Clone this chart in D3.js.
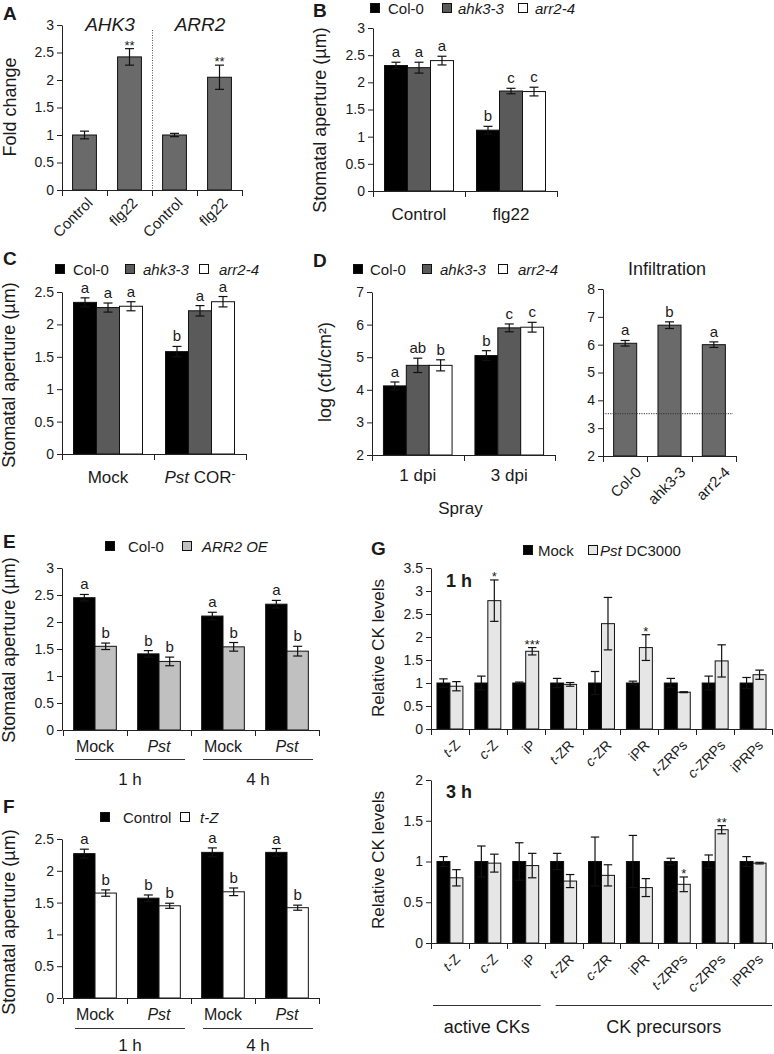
<!DOCTYPE html>
<html><head><meta charset="utf-8">
<script src="https://cdn.jsdelivr.net/npm/d3@7"></script>
<style>
body{margin:0;background:#fff;}
svg text{font-family:"Liberation Sans",Arial,sans-serif;fill:#1a1a1a;}
</style></head><body>
<svg id="fig" width="774" height="1054"></svg>
<script>
// ---------------- DATA ----------------
// Panel A
const aCategories = ["Control", "flg22", "Control", "flg22"];
const aGenes = ["AHK3", "ARR2"];
const aValues = [1.0, 2.42, 1.0, 2.05];
const aErrors = [0.07, 0.15, 0.03, 0.22];
const aStars = ["", "**", "", "**"];
const aTicks = [0, 0.5, 1, 1.5, 2, 2.5, 3];

// Panels B, C, D genotypes
const genotypes = ["Col-0", "ahk3-3", "arr2-4"];

// Panel B
const bGroups = ["Control", "flg22"];
const bValues = [[2.31, 2.27, 2.40], [1.12, 1.84, 1.83]];
const bErrors = [[0.06, 0.10, 0.08], [0.07, 0.05, 0.08]];
const bLetters = [["a", "a", "a"], ["b", "c", "c"]];
const bTicks = [0, 0.5, 1, 1.5, 2, 2.5, 3];

// Panel C
const cGroups = ["Mock", "_Pst_ COR^-^"];
const cValues = [[2.34, 2.26, 2.28], [1.58, 2.21, 2.35]];
const cErrors = [[0.07, 0.07, 0.07], [0.08, 0.08, 0.08]];
const cLetters = [["a", "a", "a"], ["b", "a", "a"]];
const cTicks = [0, 0.5, 1, 1.5, 2, 2.5];

// Panel D (spray)
const dGroups = ["1 dpi", "3 dpi"];
const dValues = [[4.12, 4.75, 4.75], [5.05, 5.90, 5.92]];
const dErrors = [[0.12, 0.22, 0.17], [0.15, 0.12, 0.15]];
const dLetters = [["a", "ab", "b"], ["b", "c", "c"]];
const dTicks = [2, 3, 4, 5, 6, 7];
// Panel D (infiltration)
const infValues = [6.05, 6.70, 6.00];
const infErrors = [0.10, 0.12, 0.10];
const infLetters = ["a", "b", "a"];
const infLimit = 3.52;
const infTicks = [2, 3, 4, 5, 6, 7, 8];

// Panel E
const eSeries = ["Col-0", "ARR2 OE"];
const eGroups = ["Mock", "_Pst_", "Mock", "_Pst_"];
const eTimes = ["1 h", "4 h"];
const eValues = [[2.45, 1.55], [1.41, 1.27], [2.11, 1.54], [2.33, 1.46]];
const eErrors = [[0.06, 0.06], [0.06, 0.08], [0.07, 0.08], [0.07, 0.09]];
const eLetters = [["a", "b"], ["b", "b"], ["a", "b"], ["a", "b"]];
const eTicks = [0, 0.5, 1, 1.5, 2, 2.5, 3];

// Panel F
const fSeries = ["Control", "t-Z"];
const fValues = [[2.27, 1.65], [1.57, 1.45], [2.29, 1.67], [2.29, 1.42]];
const fErrors = [[0.07, 0.05], [0.05, 0.04], [0.07, 0.06], [0.06, 0.04]];
const fLetters = [["a", "b"], ["b", "b"], ["a", "b"], ["a", "b"]];
const fTicks = [0, 0.5, 1, 1.5, 2, 2.5];

// Panel G
const gSeries = ["Mock", "Pst DC3000"];
const gCategories = ["_t_-Z", "_c_-Z", "iP", "_t_-ZR", "_c_-ZR", "iPR", "_t_-ZRPs", "_c_-ZRPs", "iPRPs"];
const gGroupsLabels = ["active CKs", "CK precursors"];
const gGroupSizes = [3, 6];
const g1Mock = [1, 1, 1, 1, 1, 1, 1, 1, 1];
const g1MockErr = [0.09, 0.15, 0.02, 0.10, 0.25, 0.04, 0.10, 0.15, 0.12];
const g1Pst = [0.93, 2.79, 1.69, 0.97, 2.29, 1.77, 0.80, 1.48, 1.18];
const g1PstErr = [0.10, 0.45, 0.08, 0.04, 0.57, 0.28, 0.01, 0.35, 0.10];
const g1Stars = ["", "*", "***", "", "", "*", "", "", ""];
const g1Ticks = [0, 0.5, 1, 1.5, 2, 2.5, 3, 3.5];
const g3Mock = [1, 1, 1, 1, 1, 1, 1, 1, 1];
const g3MockErr = [0.06, 0.19, 0.23, 0.10, 0.30, 0.32, 0.04, 0.08, 0.06];
const g3Pst = [0.80, 0.98, 0.95, 0.76, 0.83, 0.68, 0.72, 1.39, 0.98];
const g3PstErr = [0.10, 0.11, 0.15, 0.08, 0.13, 0.11, 0.09, 0.05, 0.01];
const g3Stars = ["", "", "", "", "", "", "*", "**", ""];
const g3Ticks = [0, 0.5, 1, 1.5, 2];

// ---------------- STYLE ----------------
const COL = {
  "Col-0": "#000000", "ahk3-3": "#5a5a5a", "arr2-4": "#ffffff",
  "ARR2 OE": "#c0c0c0", "Control": "#000000", "t-Z": "#ffffff",
  "Mock": "#000000", "Pst DC3000": "#e6e6e6", "A": "#6a6a6a", "inf": "#6a6a6a"
};
const INK = "#1a1a1a";
const svg = d3.select("#fig");

// ---------------- HELPERS ----------------
function rich(sel, str) {
  const re = /(_[^_]+_|\^[^\^]+\^)/g;
  str.split(re).filter(s => s.length).forEach(s => {
    if (s[0] === "_") sel.append("tspan").attr("font-style", "italic").text(s.slice(1, -1));
    else if (s[0] === "^") sel.append("tspan").attr("dy", "-0.45em").attr("font-size", "70%").text(s.slice(1, -1));
    else sel.append("tspan").text(s);
  });
  return sel;
}
function txt(g, x, y, str, fs, opts = {}) {
  const t = g.append("text").attr("x", x).attr("y", y).attr("font-size", fs)
    .attr("text-anchor", opts.anchor || "middle");
  if (opts.bold) t.attr("font-weight", "bold");
  if (opts.italic) t.attr("font-style", "italic");
  return rich(t, str);
}
function vTitle(g, x, y, str, fs) {
  const t = g.append("text").attr("transform", `translate(${x},${y}) rotate(-90)`)
    .attr("text-anchor", "middle").attr("font-size", fs);
  return rich(t, str);
}
function rotLabel(g, x, y, str, fs) {
  const t = g.append("text").attr("transform", `translate(${x},${y}) rotate(-45)`)
    .attr("text-anchor", "end").attr("font-size", fs);
  return rich(t, str);
}
function yAxis(g, y, x, ticks, fs = 14) {
  const ax = d3.axisLeft(y).tickValues(ticks).tickSize(5).tickSizeOuter(0).tickPadding(3)
    .tickFormat(d => String(d));
  const a = g.append("g").attr("transform", `translate(${x},0)`).call(ax);
  a.select(".domain").attr("stroke", "#222");
  a.selectAll(".tick line").attr("stroke", "#222");
  a.selectAll(".tick text").attr("font-size", fs).attr("fill", INK);
}
function xBase(g, x, yPix) {
  const [r0, r1] = x.range();
  g.append("line").attr("x1", r0).attr("x2", r1).attr("y1", yPix + 0.5).attr("y2", yPix + 0.5)
    .attr("stroke", "#222");
  const bounds = x.domain().map(d => x(d)).concat([r1]);
  g.selectAll(null).data(bounds).join("line")
    .attr("x1", d => Math.round(d) + 0.5).attr("x2", d => Math.round(d) + 0.5)
    .attr("y1", yPix).attr("y2", yPix + 6).attr("stroke", "#222");
}
function drawBars(g, items, y) {
  const base = y(y.domain()[0]);
  g.selectAll(null).data(items).join("rect")
    .attr("x", d => d.x).attr("width", d => d.w)
    .attr("y", d => y(d.v)).attr("height", d => base - y(d.v))
    .attr("fill", d => d.fill).attr("stroke", "#111").attr("stroke-width", 1);
  items.forEach(d => {
    const cx = d.x + d.w / 2, cw = Math.min(9, d.w * 0.65) / 2;
    const t = y(d.v + d.e), b = y(d.v - d.e);
    g.append("line").attr("x1", cx).attr("x2", cx).attr("y1", t).attr("y2", b).attr("stroke", "#111").attr("stroke-width", 1.2);
    g.append("line").attr("x1", cx - cw).attr("x2", cx + cw).attr("y1", t).attr("y2", t).attr("stroke", "#111").attr("stroke-width", 1.2);
    g.append("line").attr("x1", cx - cw).attr("x2", cx + cw).attr("y1", b).attr("y2", b).attr("stroke", "#111").attr("stroke-width", 1.2);
    if (d.label) txt(g, cx, t - 5, d.label, 15);
    if (d.star) txt(g, cx, t + 1, d.star, 13);
  });
}
function legend(g, items, base) {
  items.forEach(it => {
    g.append("rect").attr("x", it.sx + 0.5).attr("y", base - 10.5).attr("width", 9).attr("height", 9)
      .attr("fill", COL[it.key]).attr("stroke", "#111");
    txt(g, it.tx, base, it.label, 15, { anchor: "start" });
  });
}
function grouped(g, x, inner, series, values, errors, letters, y) {
  const items = [];
  x.domain().forEach((gk, gi) => {
    series.forEach((s, si) => {
      items.push({ x: x(gk) + inner(s), w: inner.bandwidth(), v: values[gi][si], e: errors[gi][si],
        fill: COL[s], label: letters ? letters[gi][si] : "" });
    });
  });
  drawBars(g, items, y);
}

// ---------------- PANEL A ----------------
{
  const g = svg.append("g");
  const y = d3.scaleLinear([0, 3], [190, 25]);
  const x = d3.scaleBand(d3.range(aCategories.length), [62, 242]);
  const w = x.bandwidth() * 0.53;
  const items = aValues.map((v, i) => ({ x: x(i) + (x.bandwidth() - w) / 2, w, v, e: aErrors[i], fill: COL.A, star: aStars[i] }));
  drawBars(g, items, y);
  g.append("line").attr("x1", x(2) + 0.5).attr("x2", x(2) + 0.5).attr("y1", 30).attr("y2", y(0))
    .attr("stroke", "#555").attr("stroke-dasharray", "1,1.5");
  xBase(g, x, y(0));
  yAxis(g, y, 62, aTicks);
  aGenes.forEach((gn, i) => txt(g, x(i * 2) + x.bandwidth() + 3, 31, gn, 19, { italic: true }));
  aCategories.forEach((c, i) => rotLabel(g, x(i) + x.bandwidth() / 2 + 9, y(0) + 14, c, 15));
  vTitle(g, 16, 107, "Fold change", 18);
  txt(g, 3, 20, "A", 19, { anchor: "start", bold: true });
}

// ---------------- PANEL B ----------------
{
  const g = svg.append("g");
  const y = d3.scaleLinear([0, 3], [191, 28]);
  const x = d3.scaleBand(bGroups, [373, 557]);
  const inner = d3.scaleBand(genotypes, [0, x.bandwidth()]).paddingOuter(0.5);
  grouped(g, x, inner, genotypes, bValues, bErrors, bLetters, y);
  xBase(g, x, y(0));
  yAxis(g, y, 373, bTicks);
  bGroups.forEach(gk => txt(g, x(gk) + x.bandwidth() / 2, 220, gk, 17));
  vTitle(g, 326, 120, "Stomatal aperture (µm)", 18);
  legend(g, [{ sx: 370, tx: 388, key: "Col-0", label: "Col-0" }, { sx: 442, tx: 458, key: "ahk3-3", label: "_ahk3-3_" }, { sx: 518, tx: 535, key: "arr2-4", label: "_arr2-4_" }], 14);
  txt(g, 313, 17, "B", 19, { anchor: "start", bold: true });
}

// ---------------- PANEL C ----------------
{
  const g = svg.append("g");
  const y = d3.scaleLinear([0, 2.5], [454, 292]);
  const x = d3.scaleBand(cGroups, [62, 246]);
  const inner = d3.scaleBand(genotypes, [0, x.bandwidth()]).paddingOuter(0.5);
  grouped(g, x, inner, genotypes, cValues, cErrors, cLetters, y);
  xBase(g, x, y(0));
  yAxis(g, y, 62, cTicks);
  cGroups.forEach(gk => txt(g, x(gk) + x.bandwidth() / 2, 483, gk, 17));
  vTitle(g, 15, 375, "Stomatal aperture (µm)", 18);
  legend(g, [{ sx: 55, tx: 73, key: "Col-0", label: "Col-0" }, { sx: 125, tx: 143, key: "ahk3-3", label: "_ahk3-3_" }, { sx: 199, tx: 219, key: "arr2-4", label: "_arr2-4_" }], 275);
  txt(g, 3, 265, "C", 19, { anchor: "start", bold: true });
}

// ---------------- PANEL D ----------------
{
  const g = svg.append("g");
  const y = d3.scaleLinear([2, 7], [455, 292]);
  const x = d3.scaleBand(dGroups, [372, 555]);
  const inner = d3.scaleBand(genotypes, [0, x.bandwidth()]).paddingOuter(0.5);
  grouped(g, x, inner, genotypes, dValues, dErrors, dLetters, y);
  xBase(g, x, y(2));
  yAxis(g, y, 372, dTicks);
  dGroups.forEach(gk => txt(g, x(gk) + x.bandwidth() / 2, 481, gk, 17));
  txt(g, (x.range()[0] + x.range()[1]) / 2 - 3, 514, "Spray", 17);
  vTitle(g, 331, 372, "log (cfu/cm²)", 18);
  legend(g, [{ sx: 353, tx: 370, key: "Col-0", label: "Col-0" }, { sx: 422, tx: 440, key: "ahk3-3", label: "_ahk3-3_" }, { sx: 498, tx: 518, key: "arr2-4", label: "_arr2-4_" }], 275);
  txt(g, 313, 267, "D", 19, { anchor: "start", bold: true });

  // Infiltration
  const yi = d3.scaleLinear([2, 8], [456, 289]);
  const xi = d3.scaleBand(genotypes, [603, 736]);
  const w = xi.bandwidth() * 0.52;
  const items = infValues.map((v, i) => ({ x: xi(genotypes[i]) + (xi.bandwidth() - w) / 2, w, v, e: infErrors[i], fill: COL.inf, label: infLetters[i] }));
  drawBars(g, items, yi);
  g.append("line").attr("x1", 603).attr("x2", 733).attr("y1", yi(infLimit)).attr("y2", yi(infLimit))
    .attr("stroke", "#333").attr("stroke-dasharray", "1.2,1.2");
  xBase(g, xi, yi(2));
  yAxis(g, yi, 603, infTicks);
  genotypes.forEach(gk => rotLabel(g, xi(gk) + xi.bandwidth() / 2 + 17, yi(2) + 17, gk, 15));
  txt(g, 667, 275, "Infiltration", 18);
}

// ---------------- PANEL E ----------------
{
  const g = svg.append("g");
  const y = d3.scaleLinear([0, 3], [730, 568]);
  const x = d3.scaleBand(d3.range(eGroups.length), [63, 319]);
  const inner = d3.scaleBand(eSeries, [0, x.bandwidth()]).paddingOuter(0.5);
  grouped(g, x, inner, eSeries, eValues, eErrors, eLetters, y);
  xBase(g, x, y(0));
  yAxis(g, y, 62, eTicks);
  eGroups.forEach((gk, i) => txt(g, x(i) + x.bandwidth() / 2, 752, gk, 16));
  eTimes.forEach((t, k) => {
    const a = x(2 * k) + 12, b = x(2 * k + 1) + x.bandwidth() - 6;
    g.append("line").attr("x1", a).attr("x2", b).attr("y1", 759.5).attr("y2", 759.5).attr("stroke", "#333");
    txt(g, (a + b) / 2, 785, t, 17);
  });
  vTitle(g, 15, 650, "Stomatal aperture (µm)", 18);
  legend(g, [{ sx: 105, tx: 128, key: "Col-0", label: "Col-0" }, { sx: 182, tx: 202, key: "ARR2 OE", label: "_ARR2 OE_" }], 552);
  txt(g, 3, 548, "E", 19, { anchor: "start", bold: true });
}

// ---------------- PANEL F ----------------
{
  const g = svg.append("g");
  const y = d3.scaleLinear([0, 2.5], [998, 839]);
  const x = d3.scaleBand(d3.range(eGroups.length), [63, 319]);
  const inner = d3.scaleBand(fSeries, [0, x.bandwidth()]).paddingOuter(0.5);
  grouped(g, x, inner, fSeries, fValues, fErrors, fLetters, y);
  xBase(g, x, y(0));
  yAxis(g, y, 62, fTicks);
  eGroups.forEach((gk, i) => txt(g, x(i) + x.bandwidth() / 2, 1020, gk, 16));
  eTimes.forEach((t, k) => {
    const a = x(2 * k) + 12, b = x(2 * k + 1) + x.bandwidth() - 6;
    g.append("line").attr("x1", a).attr("x2", b).attr("y1", 1028.5).attr("y2", 1028.5).attr("stroke", "#333");
    txt(g, (a + b) / 2, 1051, t, 17);
  });
  vTitle(g, 15, 922, "Stomatal aperture (µm)", 18);
  legend(g, [{ sx: 100, tx: 123, key: "Control", label: "Control" }, { sx: 180, tx: 200, key: "t-Z", label: "_t-Z_" }], 823);
  txt(g, 3, 813, "F", 19, { anchor: "start", bold: true });
}

// ---------------- PANEL G ----------------
{
  const g = svg.append("g");
  const x = d3.scaleBand(gCategories, [431, 772]);
  const inner = d3.scaleBand(gSeries, [0, x.bandwidth()]).paddingOuter(0.46);
  function sub(y, mock, mockErr, pst, pstErr, stars, ticks, timeLabel, tly) {
    const items = [];
    gCategories.forEach((c, i) => {
      items.push({ x: x(c) + inner("Mock"), w: inner.bandwidth(), v: mock[i], e: mockErr[i], fill: COL["Mock"] });
      items.push({ x: x(c) + inner("Pst DC3000"), w: inner.bandwidth(), v: pst[i], e: pstErr[i], fill: COL["Pst DC3000"], star: stars[i] });
    });
    drawBars(g, items, y);
    xBase(g, x, y(0));
    yAxis(g, y, 431, ticks);
    gCategories.forEach(c => rotLabel(g, x(c) + x.bandwidth() / 2 + 11, y(0) + 17, c, 14));
    txt(g, 446, tly, timeLabel, 18, { anchor: "start", bold: true });
  }
  const y1 = d3.scaleLinear([0, 3.5], [729, 568]);
  sub(y1, g1Mock, g1MockErr, g1Pst, g1PstErr, g1Stars, g1Ticks, "1 h", 587);
  const y3 = d3.scaleLinear([0, 2], [943, 780]);
  sub(y3, g3Mock, g3MockErr, g3Pst, g3PstErr, g3Stars, g3Ticks, "3 h", 798);
  vTitle(g, 384, 648, "Relative CK levels", 17);
  vTitle(g, 384, 860, "Relative CK levels", 17);
  // group underlines
  let start = 0;
  gGroupsLabels.forEach((lab, k) => {
    const c0 = gCategories[start], c1 = gCategories[start + gGroupSizes[k] - 1];
    const a = x(c0) + 2 + (k ? 9 : 0), b = x(c1) + x.bandwidth() - (k ? 0 : 4);
    g.append("line").attr("x1", a).attr("x2", b).attr("y1", 1005.5).attr("y2", 1005.5).attr("stroke", "#333");
    txt(g, (a + b) / 2, 1033, lab, 18);
    start += gGroupSizes[k];
  });
  legend(g, [{ sx: 523, tx: 538, key: "Mock", label: "Mock" }, { sx: 588, tx: 600, key: "Pst DC3000", label: "_Pst_ DC3000" }], 556);
  txt(g, 371, 555, "G", 19, { anchor: "start", bold: true });
}
</script>
</body></html>
